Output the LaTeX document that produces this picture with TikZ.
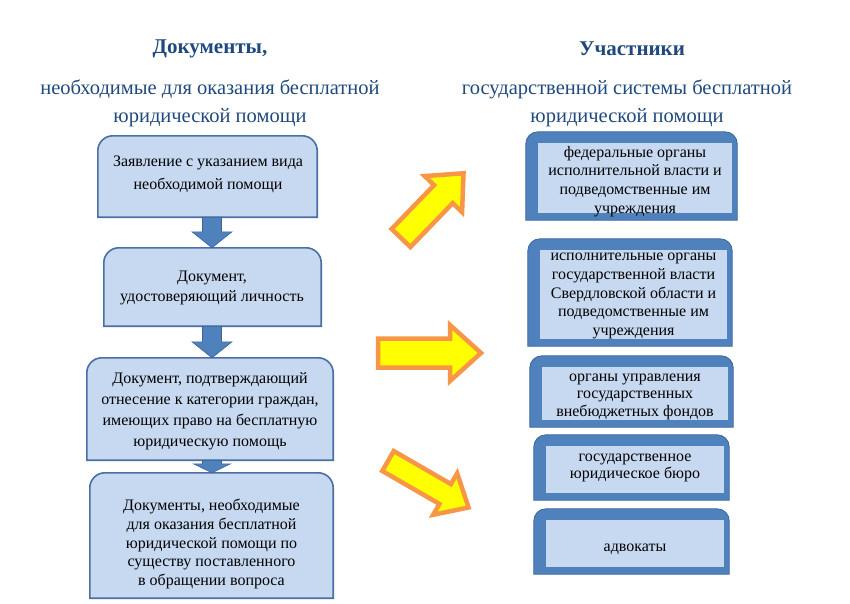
\documentclass[tikz,border=0pt]{standalone}
\usepackage{fontspec}
\setmainfont{Liberation Serif}
\usetikzlibrary{calc,backgrounds}
\definecolor{hdr}{HTML}{1F497D}
\definecolor{lfill}{HTML}{C6D9F1}
\definecolor{lline}{HTML}{4A6FA0}
\definecolor{bblue}{HTML}{4F81BD}
\definecolor{bline}{HTML}{3B6497}
\definecolor{yfill}{HTML}{FFFF00}
\definecolor{oline}{HTML}{F79646}
\tikzset{
  hdrtitle/.style={text=hdr,font=\fontsize{21}{24}\selectfont\bfseries},
  hdrsub/.style={text=hdr,font=\fontsize{20.5}{28}\selectfont,align=center},
  lbox/.style={inner sep=0pt},
  ltext/.style={align=center,inner sep=0pt,text=black},
  lshape/.style={fill=lfill,draw=lline,line width=1.6pt},
  rpanel/.style={fill=lfill,inner sep=0pt},
  rtext/.style={align=center,inner sep=0pt,text=black,font=\fontsize{16}{18.7}\selectfont},
  rshape/.style={fill=bblue,draw=bline,line width=0.8pt},
  barrowshape/.style={fill=bblue,draw=bline,line width=0.6pt},
  yarrowshape/.style={fill=yfill,draw=oline,line width=4.5pt,line join=miter},
}
% yellow block arrow: x, y (tail centre), angle, length, shaft half, head half, head length
\newcommand\myyarrow[7]{%
  \begin{scope}[shift={(#1,#2)},rotate=#3]
    \draw[yarrowshape] (0,-#5) -- ({#4-#7},-#5) -- ({#4-#7},-#6) -- (#4,0)
      -- ({#4-#7},#6) -- ({#4-#7},#5) -- (0,#5) -- cycle;
  \end{scope}}
% blue down arrow between two nodes at x = #3, head length #4, head half #5
\newcommand\mydownarrow[5]{%
  \draw[barrowshape] let \p1=(#1.south), \p2=(#2.north) in
    (#3pt-9.5pt,\y1) -- (#3pt+9.5pt,\y1) -- (#3pt+9.5pt,\y2+#4pt) -- (#3pt+#5pt,\y2+#4pt)
    -- (#3pt,\y2) -- (#3pt-#5pt,\y2+#4pt) -- (#3pt-9.5pt,\y2+#4pt) -- cycle;}
\begin{document}
\begin{tikzpicture}[x=1pt,y=-1pt]
\useasboundingbox (0,0) rectangle (850,603);

% headers
\node[hdrtitle] (t1) at (210,49) {Документы,};
\node[hdrtitle] (t2) at (632,49) {Участники};
\node[hdrsub] (s1) at (210,103) {необходимые для оказания бесплатной\\юридической помощи};
\node[hdrsub] (s2) at (627,103) {государственной системы бесплатной\\юридической помощи};

% left column boxes
\node[lbox,minimum width=219,minimum height=81] (b1) at (207.5,176.5) {};
\node[lbox,minimum width=217,minimum height=78] (b2) at (212.5,287) {};
\node[lbox,minimum width=246,minimum height=102] (b3) at (210,409) {};
\node[lbox,minimum width=243,minimum height=125] (b4) at (211.5,535.5) {};
% left texts
\node[ltext,font=\fontsize{16}{23}\selectfont] (b1t) at (208,174)
  {Заявление с указанием вида\\необходимой помощи};
\node[ltext,font=\fontsize{16}{20}\selectfont] (b2t) at (212,288)
  {Документ,\\удостоверяющий личность};
\node[ltext,font=\fontsize{16}{21}\selectfont] (b3t) at (210,411)
  {Документ, подтверждающий\\отнесение к категории граждан,\\имеющих право на бесплатную\\юридическую помощь};
\node[ltext,font=\fontsize{16}{18.8}\selectfont] (b4t) at (211.5,544)
  {Документы, необходимые\\для оказания бесплатной\\юридической помощи по\\существу поставленного\\в обращении вопроса};

% right column (inner panels)
\node[rpanel,minimum width=194,minimum height=70] (r1) at (635,178) {};
\node[rpanel,minimum width=187,minimum height=89] (r2) at (633.5,294.5) {};
\node[rpanel,minimum width=186,minimum height=53] (r3) at (635,393.5) {};
\node[rpanel,minimum width=178,minimum height=47] (r4) at (635,469.5) {};
\node[rpanel,minimum width=178,minimum height=47] (r5) at (635,543.5) {};
% right texts
\node[rtext] (r1t) at (635,181.5)
  {федеральные органы\\исполнительной власти и\\подведомственные им\\учреждения};
\node[rtext] (r2t) at (633.5,296)
  {исполнительные органы\\государственной власти\\Свердловской области и\\подведомственные им\\учреждения};
\node[rtext,font=\fontsize{16}{17.5}\selectfont] (r3t) at (635,396.5)
  {органы управления\\государственных\\внебюджетных фондов};
\node[rtext,font=\fontsize{16}{17}\selectfont] (r4t) at (635,467.5)
  {государственное\\юридическое бюро};
\node[rtext] (r5t) at (635,549)
  {адвокаты};

\begin{scope}[on background layer]
  \foreach \n in {b1,b2,b3,b4}{
    \draw[lshape] (\n.south west) [rounded corners=15pt] -- (\n.north west) -- (\n.north east) [sharp corners] -- (\n.south east) -- cycle;
  }
  \foreach \n in {r1,r2,r3,r4,r5}{
    \draw[rshape] ($(\n.south west)+(-12,7)$) [rounded corners=12pt] -- ($(\n.north west)+(-12,-11)$)
      -- ($(\n.north east)+(5,-11)$) [sharp corners] -- ($(\n.south east)+(5,7)$) -- cycle;
  }
\end{scope}

% blue down arrows
\mydownarrow{b1}{b2}{212}{16}{20}
\mydownarrow{b2}{b3}{212}{16}{20}
\mydownarrow{b3}{b4}{212}{9}{18.5}

% yellow arrows
\myyarrow{401}{238}{46}{90}{13}{26}{29}
\myyarrow{378}{353}{0}{103}{14.5}{28}{31}
\myyarrow{388}{461}{-30}{93}{11.5}{24}{27}
\end{tikzpicture}
\end{document}
